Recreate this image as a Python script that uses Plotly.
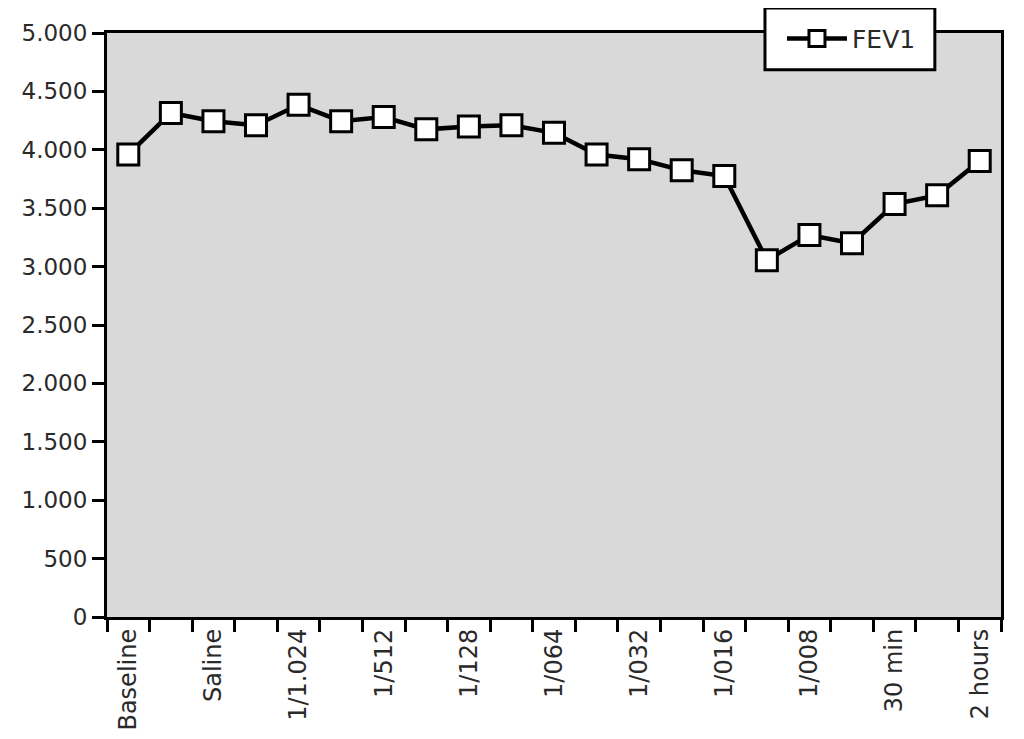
import plotly.graph_objects as go

# data
categories = ["Baseline", "", "Saline", "", "1/1.024", "", "1/512", "", "1/128", "",
              "1/064", "", "1/032", "", "1/016", "", "1/008", "", "30 min", "", "2 hours"]
fev1 = [3960, 4315, 4245, 4210, 4385, 4245, 4280, 4175, 4200, 4210,
        4145, 3960, 3920, 3825, 3775, 3055, 3270, 3200, 3535, 3610, 3905]
y_ticks = [0, 500, 1000, 1500, 2000, 2500, 3000, 3500, 4000, 4500, 5000]

pos = list(range(len(categories)))
font = dict(family="DejaVu Sans", size=23, color="#2a2a2a")

fig = go.Figure()
fig.add_trace(go.Scatter(
    x=pos, y=fev1, mode="lines+markers", name="FEV1",
    line=dict(color="black", width=4.5),
    marker=dict(symbol="square", size=21, color="white",
                line=dict(color="black", width=3)),
))
# invisible trace on a second axis that carries the category labels
fig.add_trace(go.Scatter(x=pos, y=fev1, xaxis="x2", mode="markers",
                         marker=dict(opacity=0), showlegend=False, hoverinfo="skip"))

# legend frame (bigger than plotly's own box)
fig.add_shape(type="rect", xref="paper", yref="paper",
              x0=0.736, x1=0.926, y0=0.937, y1=1.043,
              fillcolor="white", line=dict(color="black", width=3), layer="above")

fig.update_layout(
    width=1024, height=739,
    margin=dict(l=99, r=31, t=25, b=130, autoexpand=False),
    paper_bgcolor="white", plot_bgcolor="#d9d9d9",
    font=font, separators=",.",
    showlegend=True,
    legend=dict(x=0.755, y=0.99, xanchor="left", yanchor="middle",
                bgcolor="rgba(0,0,0,0)", borderwidth=0, itemwidth=60,
                font=dict(family="DejaVu Sans", size=25, color="#2a2a2a")),
    xaxis=dict(range=[-0.5, len(pos) - 0.5], tickmode="array",
               tickvals=[p - 0.5 for p in pos] + [len(pos) - 0.5],
               ticktext=[""] * (len(pos) + 1), automargin=False,
               ticks="outside", ticklen=12, tickwidth=3, tickcolor="black",
               showgrid=False, zeroline=False, showline=True,
               linecolor="black", linewidth=3, mirror=True),
    xaxis2=dict(range=[-0.5, len(pos) - 0.5], overlaying="x", side="bottom",
                tickmode="array", tickvals=pos, ticktext=categories,
                automargin=False, tickangle=-90, ticks="", showgrid=False,
                zeroline=False, showline=False, ticklabelstandoff=6,
                tickfont=dict(family="DejaVu Sans", size=24, color="#2a2a2a")),
    yaxis=dict(range=[0, 5000], tickmode="array", tickvals=y_ticks,
               tickformat=",d", ticks="outside", ticklen=12, tickwidth=3,
               tickcolor="black", showgrid=False, zeroline=False, automargin=False,
               showline=True, linecolor="black", linewidth=3, mirror=True,
               tickfont=font),
)

fig.write_html("out.html")
